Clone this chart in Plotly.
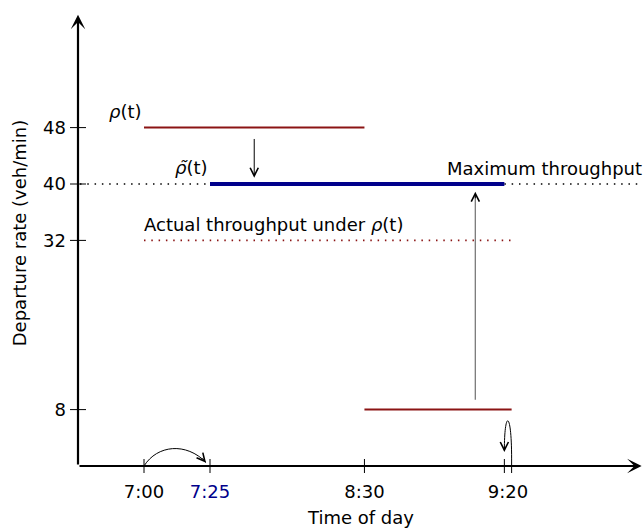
import plotly.graph_objects as go

# ---- data (schematic positions along the time axis, not to scale) ----
tick_labels = ["7:00", "7:25", "8:30", "9:20"]
tick_pos = [1.0, 2.0, 4.34, 6.515]
t920_minus = 6.46          # 9:20 (left of the break)
t920_plus = 6.57           # 9:20 (right of the break)
y_ticks = [48, 40, 32, 8]

rho_x = [[1.0, 4.34], [4.34, 6.57]]     # rho(t) segments
rho_y = [48, 8]
rho_tilde_x = [2.0, 6.46]               # adjusted departure profile
capacity = 40                           # maximum throughput
actual_x = [1.0, 6.57]
actual = 32                             # actual throughput under rho(t)

x_end = 8.54      # arrow tip of time axis
y_end = 64.0      # arrow tip of rate axis
XR = 566 / 66.0   # x range
YR = 466 / 7.05   # y range

RED = "#8b1414"
BLUE = "#00008b"
FONT = "DejaVu Sans, sans-serif"
FS = 18

def px(v):
    return v / XR

def py(v):
    return v / YR

fig = go.Figure()

# capacity dotted line (black) on both sides of the blue segment
fig.add_trace(go.Scatter(x=[0.03, rho_tilde_x[0]], y=[capacity, capacity], mode="lines",
                         line=dict(color="black", width=1.6, dash="1.5px,5.8px"), hoverinfo="skip"))
fig.add_trace(go.Scatter(x=[rho_tilde_x[1], x_end], y=[capacity, capacity], mode="lines",
                         line=dict(color="black", width=1.6, dash="1.5px,5.8px"), hoverinfo="skip"))
# actual throughput (red dotted)
fig.add_trace(go.Scatter(x=actual_x, y=[actual, actual], mode="lines",
                         line=dict(color=RED, width=1.6, dash="1.5px,5.8px"), hoverinfo="skip"))
# rho(t)
for xs, yv in zip(rho_x, rho_y):
    fig.add_trace(go.Scatter(x=xs, y=[yv, yv], mode="lines",
                             line=dict(color=RED, width=2), hoverinfo="skip"))
# rho tilde
fig.add_trace(go.Scatter(x=rho_tilde_x, y=[capacity, capacity], mode="lines",
                         line=dict(color=BLUE, width=4), hoverinfo="skip"))

# up arrow (gray shaft) from low level to capacity
up_x = 6.02
fig.add_trace(go.Scatter(x=[up_x, up_x], y=[rho_y[1] + 1.4, capacity - 1.6], mode="lines",
                         line=dict(color="#7a7a7a", width=1.3), hoverinfo="skip"))

shapes = []
# y ticks crossing the axis
for v in y_ticks:
    shapes.append(dict(type="line", xref="paper", yref="paper",
                       x0=px(-8 / 66), x1=px(8 / 66), y0=py(v), y1=py(v),
                       line=dict(color="black", width=1)))
# x ticks crossing the axis
for v in [tick_pos[0], tick_pos[1], tick_pos[2], t920_minus, t920_plus]:
    shapes.append(dict(type="line", xref="paper", yref="paper",
                       x0=px(v), x1=px(v), y0=py(-7 / 7.05), y1=py(7 / 7.05),
                       line=dict(color="black", width=1)))
# curved arrow 7:00 -> 7:25
x0, x1 = tick_pos[0], tick_pos[1] - 0.06
shapes.append(dict(type="path", xref="paper", yref="paper",
                   path=f"M {px(x0)},{py(0.0)} C {px(x0 + 0.2)},{py(3.0)} {px(x1 - 0.3)},{py(3.4)} {px(x1)},{py(0.5)}",
                   line=dict(color="black", width=1)))
# loop arrow at 9:20
shapes.append(dict(type="path", xref="paper", yref="paper",
                   path=f"M {px(t920_plus)},{py(1.0)} C {px(t920_plus)},{py(8.0)} {px(t920_minus)},{py(8.0)} {px(t920_minus)},{py(2.2)}",
                   line=dict(color="black", width=1)))

ann = []
# axes with arrows
ann.append(dict(x=x_end, y=0, ax=0, ay=0, xref="x", yref="y", axref="x", ayref="y",
                text="", showarrow=True, arrowhead=3, arrowsize=1.1, arrowwidth=2.2, arrowcolor="black"))
ann.append(dict(x=0, y=y_end, ax=0, ay=0, xref="x", yref="y", axref="x", ayref="y",
                text="", showarrow=True, arrowhead=3, arrowsize=1.1, arrowwidth=2.2, arrowcolor="black"))
# down arrow from rho(t) to capacity
ann.append(dict(x=2.67, y=capacity + 0.9, ax=2.67, ay=rho_y[0] - 1.4, xref="x", yref="y",
                axref="x", ayref="y", text="", showarrow=True, arrowhead=5, arrowsize=1.6,
                arrowwidth=1, arrowcolor="black"))
# up arrow head
ann.append(dict(x=up_x, y=capacity - 1.1, ax=0, ay=8, xref="x", yref="y",
                text="", showarrow=True, arrowhead=5, arrowsize=1.6, arrowwidth=1, arrowcolor="black"))
# heads of curved arrows
ann.append(dict(x=x1, y=0.45, ax=-5, ay=-6, xref="x", yref="y", text="", showarrow=True,
                arrowhead=5, arrowsize=1.6, arrowwidth=1, arrowcolor="black"))
ann.append(dict(x=t920_minus, y=2.0, ax=0, ay=-7, xref="x", yref="y", text="", showarrow=True,
                arrowhead=5, arrowsize=1.6, arrowwidth=1, arrowcolor="black"))

# labels
tf = dict(family=FONT, size=FS, color="black")
ann.append(dict(x=rho_x[0][0], y=rho_y[0], xref="x", yref="y", text="<i>ρ</i>(t)", showarrow=False,
                xanchor="right", yanchor="bottom", yshift=4, font=tf))
ann.append(dict(x=rho_tilde_x[0], y=capacity, xref="x", yref="y", text="<i>ρ̃</i>(t)", showarrow=False,
                xanchor="right", yanchor="bottom", yshift=4, font=tf))
ann.append(dict(x=actual_x[0], y=actual, xref="x", yref="y", text="Actual throughput under <i>ρ</i>(t)",
                showarrow=False, xanchor="left", yanchor="bottom", yshift=3, xshift=-2, font=tf))
ann.append(dict(x=x_end, y=capacity, xref="x", yref="y", text="Maximum throughput",
                showarrow=False, xanchor="right", yanchor="bottom", yshift=3, xshift=2, font=tf))

ticktext = [f"<span style='color:{BLUE}'>{t}</span>" if t == "7:25" else t for t in tick_labels]

fig.update_layout(
    width=644, height=531,
    margin=dict(l=78, r=0, t=0, b=65),
    paper_bgcolor="white", plot_bgcolor="white",
    showlegend=False,
    shapes=shapes, annotations=ann,
    font=dict(family=FONT, size=FS, color="black"),
    xaxis=dict(range=[0, XR], showgrid=False, zeroline=False, showline=False,
               tickmode="array", tickvals=tick_pos, ticktext=ticktext, ticks="",
               ticklabelstandoff=13, tickfont=dict(family=FONT, size=FS, color="black"),
               title=dict(text="Time of day", font=dict(family=FONT, size=FS), standoff=10),
               automargin=False, fixedrange=True),
    yaxis=dict(range=[0, YR], showgrid=False, zeroline=False, showline=False,
               tickmode="array", tickvals=y_ticks, ticktext=[str(v) for v in y_ticks], ticks="",
               ticklabelstandoff=11, tickfont=dict(family=FONT, size=FS, color="black"),
               title=dict(text="Departure rate (veh/min)", font=dict(family=FONT, size=FS), standoff=11),
               automargin=False, fixedrange=True),
)

fig.write_html("out.html")
